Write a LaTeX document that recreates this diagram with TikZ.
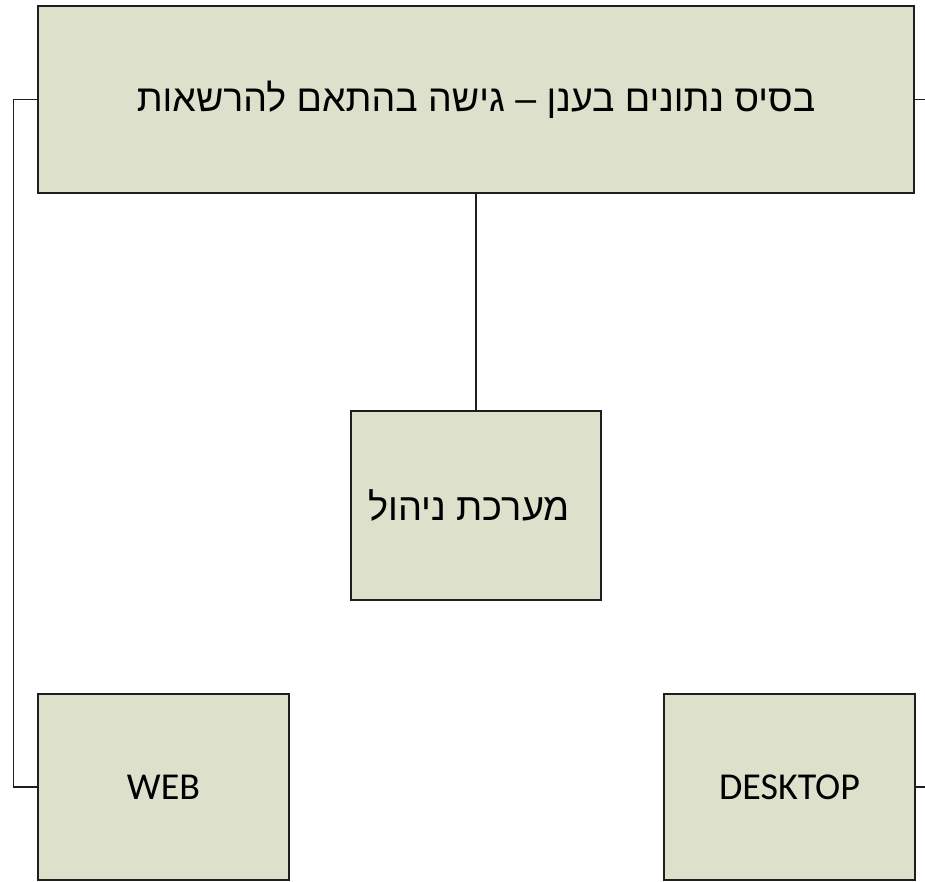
\documentclass[tikz,border=0pt]{standalone}
\usepackage{fontspec}
\setmainfont{Carlito}
\newfontfamily\hebfont[Script=Hebrew]{Liberation Sans}
\TeXXeTstate=1
\definecolor{boxfill}{RGB}{221,224,202}
\definecolor{boxline}{RGB}{30,30,30}
\begin{document}
\begin{tikzpicture}[x=1pt,y=-1pt,
  box/.style={draw=boxline,line width=1.4pt,fill=boxfill,inner sep=0pt},
  conn/.style={draw=boxline,line width=1.2pt}]
\useasboundingbox (0,0) rectangle (925,881);
\node[box,minimum width=876pt,minimum height=187pt] (db) at (476,99.5)
  {\fontsize{37.5}{44}\selectfont\hebfont\beginR בסיס נתונים בענן – גישה בהתאם להרשאות\endR};
\node[box,minimum width=250pt,minimum height=189pt] (mgmt) at (476,505.5)
  {\fontsize{38}{44}\selectfont\hebfont\beginR מערכת ניהול\endR\kern14pt};
\node[box,minimum width=251pt,minimum height=186pt] (web) at (163.5,787)
  {\fontsize{38}{44}\selectfont WEB};
\node[box,minimum width=251pt,minimum height=186pt] (desk) at (789.5,787)
  {\fontsize{38}{44}\selectfont DESKTOP};
\coordinate (dbR) at (925,99.5);
\coordinate (deskR) at (925,787);
\draw[conn] (db.south) -- (mgmt.north);
\draw[conn] (db.west) -- ++(-24,0) |- (web.west);
\draw[conn] (db.east) -- (dbR);
\draw[conn] (desk.east) -- (deskR);
\end{tikzpicture}
\end{document}
